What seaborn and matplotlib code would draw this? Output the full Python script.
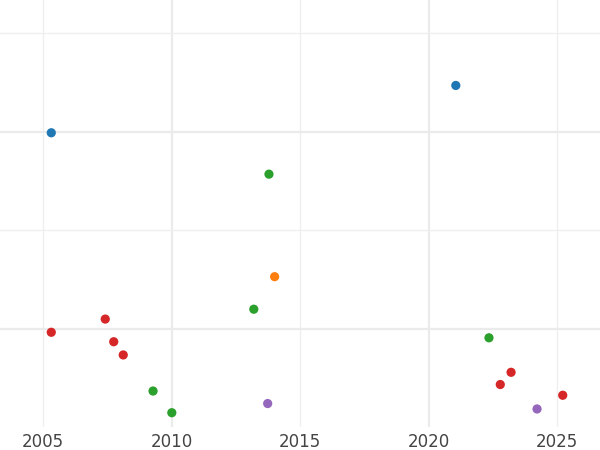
import matplotlib

matplotlib.use("Agg")
import matplotlib.pyplot as plt
import pandas as pd
import seaborn as sns
from matplotlib.ticker import MultipleLocator, FormatStrFormatter

# data (x = year, y = value on an unlabelled scale)
groups = ["A", "B", "C", "D", "E"]
colors = ["#1f77b4", "#ff7f0e", "#2ca02c", "#d62728", "#9467bd"]

a_year = [2005.31, 2021.05]
a_val = [39.9, 44.7]
b_year = [2014.0]
b_val = [25.3]
c_year = [2013.78, 2013.19, 2009.27, 2010.0, 2022.34]
c_val = [35.7, 22.0, 13.7, 11.5, 19.1]
d_year = [2005.31, 2007.41, 2007.74, 2008.11, 2022.78, 2023.20, 2025.21]
d_val = [19.66, 21.0, 18.7, 17.36, 14.36, 15.6, 13.27]
e_year = [2013.73, 2024.21]
e_val = [12.43, 11.88]

years = [a_year, b_year, c_year, d_year, e_year]
vals = [a_val, b_val, c_val, d_val, e_val]

df = pd.DataFrame(
    {
        "year": [x for ys in years for x in ys],
        "value": [v for vs in vals for v in vs],
        "group": [g for g, ys in zip(groups, years) for _ in ys],
    }
)

sns.set_theme(style="white")
plt.rcParams["font.family"] = ["DejaVu Sans"]

fig = plt.figure(figsize=(6, 4.5), dpi=100)
ax = fig.add_axes([0, 1 - 427 / 450, 1, 427 / 450])

sns.scatterplot(
    data=df,
    x="year",
    y="value",
    hue="group",
    hue_order=groups,
    palette=colors,
    s=44,
    linewidth=0,
    legend=False,
    ax=ax,
    zorder=3,
)

ax.set_xlim(2003.315, 2026.66)
ax.set_ylim(10.05, 53.37)

# major grid every 10 years (heavier), minor every 5, all labelled
ax.xaxis.set_major_locator(MultipleLocator(10))
ax.xaxis.set_minor_locator(MultipleLocator(5))
ax.xaxis.set_major_formatter(FormatStrFormatter("%d"))
ax.xaxis.set_minor_formatter(FormatStrFormatter("%d"))
ax.yaxis.set_major_locator(MultipleLocator(20))
ax.yaxis.set_minor_locator(MultipleLocator(10))
ax.set_yticklabels([])
ax.yaxis.set_minor_formatter(plt.NullFormatter())

ax.grid(which="major", color="#ebebeb", linewidth=1.6)
ax.grid(which="minor", color="#eeeeee", linewidth=0.9)
ax.set_axisbelow(True)

ax.tick_params(axis="x", which="both", length=0, labelsize=12, colors="#444444", pad=4)
ax.tick_params(axis="y", which="both", length=0)
for s in ax.spines.values():
    s.set_visible(False)
ax.set_xlabel("")
ax.set_ylabel("")

fig.savefig("out.png", dpi=100)
